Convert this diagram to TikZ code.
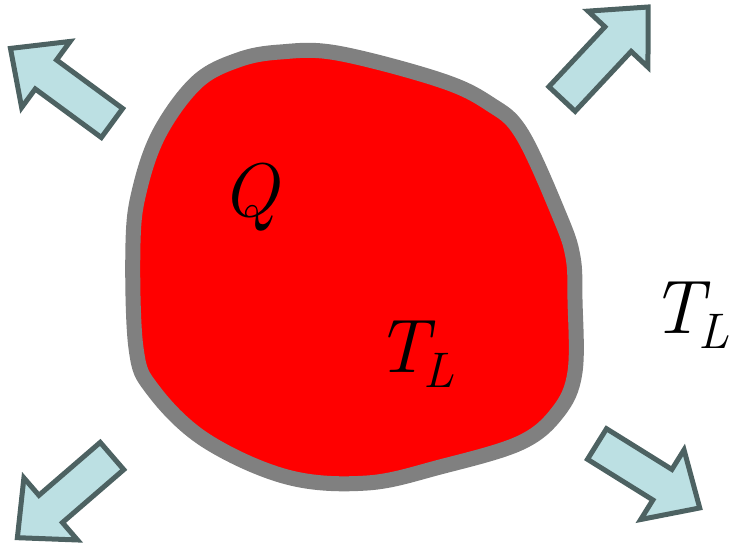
\documentclass[tikz,border=0pt]{standalone}
\usetikzlibrary{calc}
\definecolor{blobred}{HTML}{FF0000}
\definecolor{blobgray}{HTML}{808080}
\definecolor{arrfill}{HTML}{BCE0E3}
\definecolor{arredge}{HTML}{4D6262}
\tikzset{
  blob/.style={fill=blobred, draw=blobgray, line width=15pt, line join=round},
  blockarrow/.style={fill=arrfill, draw=arredge, line width=5pt, line join=miter},
  lbl/.style={inner sep=0pt, font=\fontsize{76}{78}\selectfont\itshape},
}
\newcommand{\TLsym}{T\kern-0.06em\raisebox{-0.2em}{\fontsize{50}{52}\selectfont L}}
\newcommand{\myarrow}[4]{% tail x, tail y, screen angle, length
  \begin{scope}[shift={(#1,#2)}, rotate=#3]
    \draw[blockarrow] (0,18) -- (#4-44,18) -- (#4-44,41) -- (#4,0) -- (#4-44,-41) -- (#4-44,-18) -- (0,-18) -- cycle;
  \end{scope}}
\begin{document}
\begin{tikzpicture}[x=1pt,y=-1pt]
\useasboundingbox (0,0) rectangle (733,547);
\draw[blob] plot[smooth cycle, tension=0.6] coordinates {
 (280,52) (337,53) (440,80) (490,104) (522,134) (560,217) (573,257)
 (575,300) (575,372) (558,412) (520,443) (440,467) (367,483) (287,477)
 (205,440) (153,390) (136,348) (133,243) (140,188) (160,132) (197,82) (238,60)};
\myarrow{112}{123}{143.7}{126}
\myarrow{562}{99}{46.9}{126}
\myarrow{112}{456}{220.8}{125}
\myarrow{597}{444}{-31.9}{121}
\node[lbl, anchor=base] (q) at (250,216) {Q};
\node[lbl, anchor=base west] (tin) at (375,372) {\TLsym};
\node[lbl, anchor=base west] (tout) at (650,333) {\TLsym};
\end{tikzpicture}
\end{document}
